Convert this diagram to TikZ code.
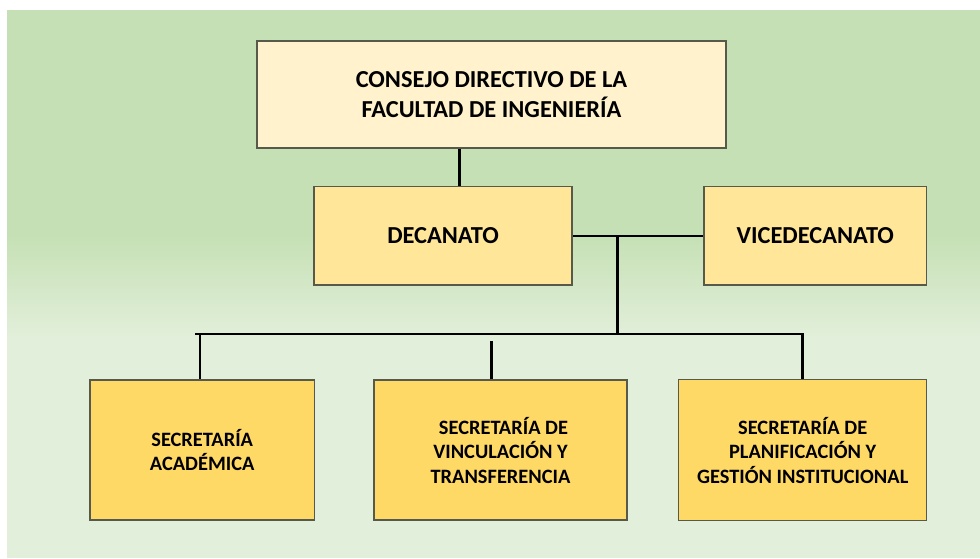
\documentclass[tikz,border=0pt]{standalone}
\usepackage{fontspec}
\setmainfont{Carlito}
\definecolor{bgtop}{HTML}{C5E0B4}
\definecolor{bgbot}{HTML}{E2EFDA}
\definecolor{boxa}{HTML}{FFF2CC}
\definecolor{boxb}{HTML}{FFE699}
\definecolor{boxc}{HTML}{FFD966}
\definecolor{edge}{HTML}{575a4a}
\begin{document}
\begin{tikzpicture}[x=1pt,y=-1pt,
  orgbox/.style={draw=edge, line width=1.2pt, inner sep=0pt, align=center,
    font=\bfseries\fontsize{24.4}{29.6}\selectfont, text=black},
  smallbox/.style={orgbox, fill=boxc, minimum height=140pt,
    font=\bfseries\fontsize{20.4}{24.5}\selectfont},
  link/.style={line width=2.6pt, black}]
\useasboundingbox (0,0) rectangle (980,558);
\fill[white] (0,0) rectangle (980,558);
% background
\fill[bgtop] (7,10) rectangle (980,233);
\shade[top color=bgtop, bottom color=bgbot] (7,232.5) rectangle (980,337.5);
\fill[bgbot] (7,337) rectangle (980,558);
% boxes
\node[orgbox, fill=boxa, minimum width=469pt, minimum height=107pt] (top) at (491.5,94.5)
  {CONSEJO DIRECTIVO DE LA\\FACULTAD DE INGENIERÍA};
\node[orgbox, fill=boxb, minimum width=258pt, minimum height=98.3pt] (dec) at (443,235.8) {DECANATO};
\node[orgbox, fill=boxb, minimum width=222.7pt, minimum height=98.3pt] (vice) at (815.3,235.8) {VICEDECANATO};
\node[smallbox, minimum width=224.3pt] (sa) at (202.2,450) {SECRETARÍA\\ACADÉMICA};
\node[smallbox, minimum width=253pt] (sv) at (500.5,450) {\hspace*{6pt}SECRETARÍA DE\\VINCULACIÓN Y\\TRANSFERENCIA};
\node[smallbox, minimum width=248pt, minimum height=140.6pt] (sp) at (802.7,450) {SECRETARÍA DE\\PLANIFICACIÓN Y\\GESTIÓN INSTITUCIONAL};
% connector coordinates
\coordinate (xa) at (459.3,0);
\coordinate (j) at (617.3,0);
\coordinate (busL) at (195,334);
\coordinate (busR) at (802.7,334);
\coordinate (da) at (200,334);
\coordinate (dv) at (491.7,341);
% connectors
\draw[link] (top.south -| xa) -- (dec.north -| xa);
\draw[link] (dec.east) -- (vice.west);
\draw[link] (j |- dec.east) -- (j |- busL);
\draw[link] (busL) -- (busR) -- (sp.north);
\draw[link] (da) -- (sa.north -| da);
\draw[link] (dv) -- (sv.north -| dv);
\end{tikzpicture}
\end{document}
